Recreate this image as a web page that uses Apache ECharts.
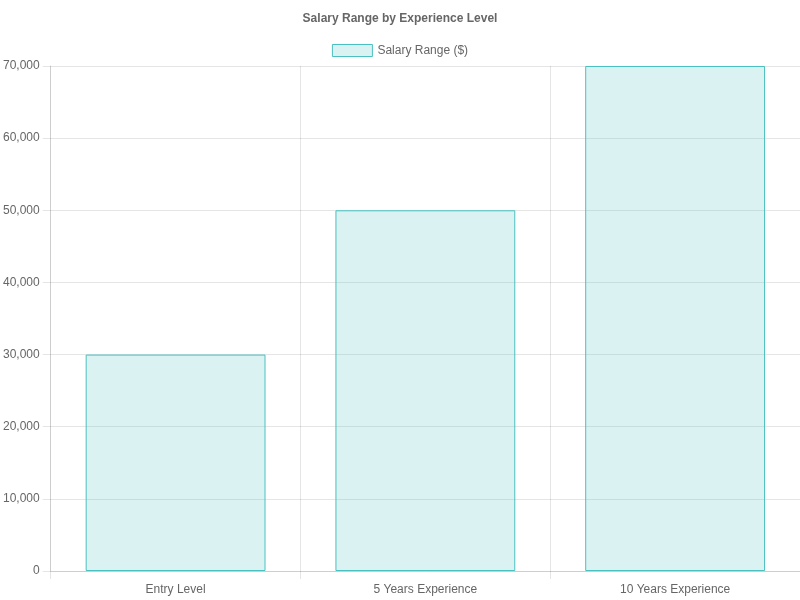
<!DOCTYPE html>
<html>
<head>
<meta charset="utf-8">
<script src="https://cdn.jsdelivr.net/npm/echarts@6/dist/echarts.min.js"></script>
<style>
html,body{margin:0;padding:0;background:#fff;}
#chart{width:800px;height:600px;}
</style>
</head>
<body>
<div id="chart"></div>
<script>
const categories = ['Entry Level', '5 Years Experience', '10 Years Experience'];
const salaryValues = [30000, 50000, 70000];
const seriesName = 'Salary Range ($)';
const chartTitle = 'Salary Range by Experience Level';

const chart = echarts.init(document.getElementById('chart'));
const FONT = '"Liberation Sans", Helvetica, Arial, sans-serif';
const gridColor = 'rgba(0,0,0,0.1)';
chart.setOption({
  animation: false,
  textStyle: { fontFamily: FONT },
  title: {
    text: chartTitle,
    left: 'center',
    top: 8,
    textStyle: { fontSize: 12, fontWeight: 'bold', color: '#666', fontFamily: FONT }
  },
  legend: {
    top: 39,
    left: 'center',
    itemWidth: 40,
    itemHeight: 12,
    itemGap: 10,
    icon: 'rect',
    itemStyle: { color: 'rgba(75,192,192,0.2)', borderColor: 'rgb(75,192,192)', borderWidth: 1 },
    textStyle: { fontSize: 12, color: '#666', fontFamily: FONT },
    data: [seriesName]
  },
  grid: { left: 50, right: 0, top: 66, bottom: 29, containLabel: false },
  xAxis: {
    type: 'category',
    data: categories,
    boundaryGap: true,
    axisLine: { show: true, lineStyle: { color: gridColor } },
    axisTick: { show: true, length: 8, alignWithLabel: false, lineStyle: { color: gridColor } },
    splitLine: { show: true, lineStyle: { color: gridColor } },
    axisLabel: { fontSize: 12, color: '#666', margin: 13, fontFamily: FONT }
  },
  yAxis: {
    type: 'value',
    min: 0,
    max: 70000,
    interval: 10000,
    axisLine: { show: true, lineStyle: { color: gridColor } },
    axisTick: { show: true, length: 8, lineStyle: { color: gridColor } },
    splitLine: { show: true, lineStyle: { color: gridColor } },
    axisLabel: {
      fontSize: 12, color: '#666', margin: 11, fontFamily: FONT,
      formatter: v => v.toLocaleString('en-US')
    }
  },
  series: [{
    name: seriesName,
    type: 'bar',
    data: salaryValues,
    barWidth: '72%',
    itemStyle: {
      color: 'rgba(75,192,192,0.2)',
      borderColor: 'rgb(75,192,192)',
      borderWidth: 1
    }
  }]
});
</script>
</body>
</html>
